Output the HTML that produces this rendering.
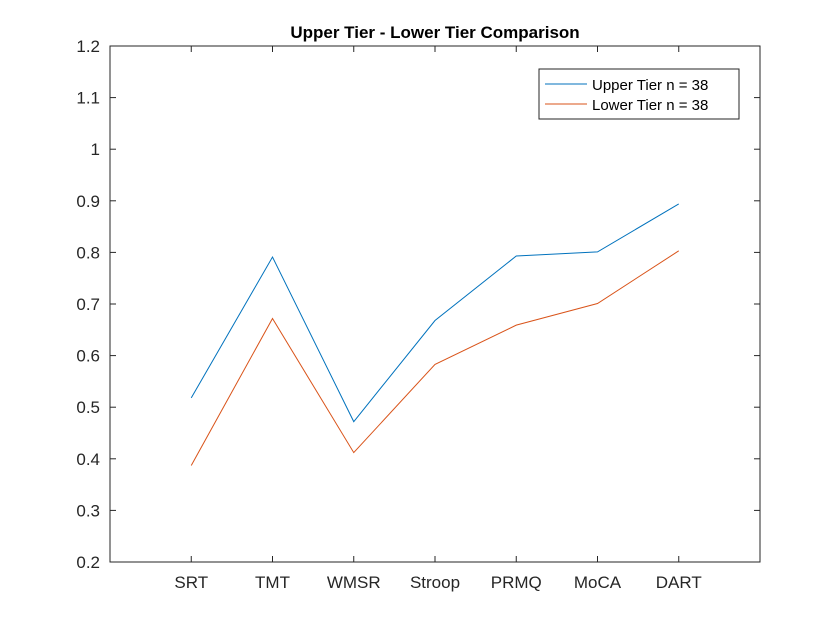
<!DOCTYPE html>
<html><head><meta charset="utf-8">
<style>
body{margin:0;background:#fff;}
svg{display:block;font-family:"Liberation Sans",Arial,sans-serif;}
</style></head>
<body>
<svg id="chart" width="840" height="630" viewBox="0 0 840 630" xmlns="http://www.w3.org/2000/svg">
<rect width="840" height="630" fill="#fff"/>
<text x="435" y="38" text-anchor="middle" font-size="17" font-weight="bold" fill="#000">Upper Tier - Lower Tier Comparison</text>
<rect x="110" y="46" width="650" height="516" fill="#fff" stroke="#262626" stroke-width="1"/>
<g id="yticks"></g>
<g id="xticks"></g>
<g id="series"></g>
<g>
<rect x="539" y="69" width="200" height="50" fill="#fff" stroke="#262626" stroke-width="1"/>
<line x1="545" y1="84" x2="587" y2="84" stroke="#0072BD" stroke-width="1"/>
<text x="592" y="90" font-size="15" fill="#000">Upper Tier n = 38</text>
<line x1="545" y1="104" x2="587" y2="104" stroke="#D95319" stroke-width="1"/>
<text x="592" y="110" font-size="15" fill="#000">Lower Tier n = 38</text>
</g>
</svg>
<script>
const categories = ["SRT","TMT","WMSR","Stroop","PRMQ","MoCA","DART"];
const upperTier = [0.518,0.791,0.472,0.668,0.793,0.801,0.894];
const lowerTier = [0.387,0.672,0.412,0.583,0.659,0.701,0.803];
const yTicks = [0.2,0.3,0.4,0.5,0.6,0.7,0.8,0.9,1,1.1,1.2];

const NS="http://www.w3.org/2000/svg";
const L=110,R=760,T=46,B=562;
const xScale=i=>L+(R-L)*(i+1)/(categories.length+1);
const yScale=v=>B-(v-0.2)/(1.2-0.2)*(B-T);
function mk(tag,attrs,parent){const e=document.createElementNS(NS,tag);for(const k in attrs)e.setAttribute(k,attrs[k]);parent.appendChild(e);return e;}

const yg=document.getElementById('yticks');
yTicks.forEach(v=>{
  const y=yScale(v);
  mk('line',{x1:L,y1:y,x2:L+6,y2:y,stroke:'#262626'},yg);
  mk('line',{x1:R,y1:y,x2:R-6,y2:y,stroke:'#262626'},yg);
  const t=mk('text',{x:L-10,y:y+6,'text-anchor':'end','font-size':'17',fill:'#262626'},yg);
  
  
  t.textContent=String(v);
});
const xg=document.getElementById('xticks');
categories.forEach((c,i)=>{
  const x=xScale(i);
  mk('line',{x1:x,y1:B,x2:x,y2:B-6,stroke:'#262626'},xg);
  mk('line',{x1:x,y1:T,x2:x,y2:T+6,stroke:'#262626'},xg);
  const t=mk('text',{x:x,y:B+26,'text-anchor':'middle','font-size':'17',fill:'#262626'},xg);
  
  
  t.textContent=c;
});
const sg=document.getElementById('series');
[[upperTier,'#0072BD','upper-tier-line'],[lowerTier,'#D95319','lower-tier-line']].forEach(([d,col,name])=>{
  const p=mk('polyline',{points:d.map((v,i)=>xScale(i)+','+yScale(v)).join(' '),fill:'none',stroke:col,'stroke-width':'1'},sg);
  
  
});
</script>
</body></html>
